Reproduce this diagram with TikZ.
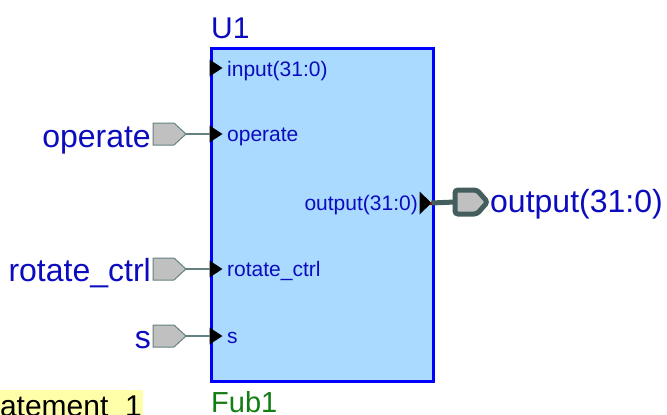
\documentclass[tikz,border=0pt]{standalone}
\usepackage{fontspec}
\setmainfont{Liberation Sans}
\usetikzlibrary{calc}
\definecolor{txtblue}{RGB}{12,12,190}
\definecolor{boxblue}{RGB}{0,0,255}
\definecolor{boxfill}{RGB}{170,218,255}
\definecolor{pingray}{RGB}{192,192,192}
\definecolor{pinedge}{RGB}{100,128,128}
\definecolor{outpin}{RGB}{68,94,94}
\definecolor{fubgreen}{RGB}{20,125,20}
\definecolor{notey}{RGB}{255,255,170}
\definecolor{dotred}{RGB}{150,0,0}
\begin{document}
\begin{tikzpicture}[x=1pt,y=-1pt,
  big/.style={font=\fontsize{32}{32}\selectfont, text=txtblue, inner sep=0pt},
  portlbl/.style={font=\fontsize{21}{21}\selectfont, text=txtblue, inner sep=0pt},
  porttri/.style={fill=black},
  wire/.style={draw=pinedge, line width=1.3pt},
  inpin/.style={fill=pingray, draw=pinedge, line width=1pt, line join=miter},
  outpinst/.style={fill=pingray, draw=outpin, line width=5pt, rounded corners=3pt}]
\useasboundingbox (0,0) rectangle (667,415);

% block
\node[draw=boxblue, fill=boxfill, line width=3pt, minimum width=222pt, minimum height=333pt,
      anchor=north west, inner sep=0pt] (U1) at (209.5,47) {};
\node[font=\fontsize{30}{30}\selectfont, text=txtblue, anchor=base west, inner sep=0pt] (U1lbl) at (211,38) {U1};
\node[font=\fontsize{29}{29}\selectfont, text=fubgreen, anchor=base west, inner sep=0pt, text depth=0pt] (Fub) at (211,412) {Fub1};

% port coordinates on the block edge
\coordinate (pIn)  at (209.5,68);
\coordinate (pOp)  at (209.5,134);
\coordinate (pRot) at (209.5,269);
\coordinate (pS)   at (209.5,336);
\coordinate (pOut) at (431.5,203);

% port triangles
\foreach \p in {pIn,pOp,pRot,pS}{
  \fill[porttri] ($(\p)+(0,-8.5)$) -- ($(\p)+(13,0)$) -- ($(\p)+(0,8.5)$) -- cycle;
}
\fill[porttri] ($(pOut)+(-12,-11.5)$) -- (pOut) -- ($(pOut)+(-12,11.5)$) -- cycle;
\fill[dotred] ($(pOut)+(-1.5,-1.5)$) rectangle ($(pOut)+(1.5,1.5)$);

% port labels
\node[portlbl, anchor=base west] (lIn)  at (227,76)  {input(31:0)};
\node[portlbl, anchor=base west] (lOp)  at (227,141) {operate};
\node[portlbl, anchor=base west] (lRot) at (227,276) {rotate\_ctrl};
\node[portlbl, anchor=base west] (lS)   at (227,343) {s};
\node[portlbl, anchor=base east] (lOut) at (418,210) {output(31:0)};

% input pins
\foreach \n/\y in {op/134,rot/269,s/336}{
  \coordinate (\n tip) at (186,\y);
  \draw[inpin] (153,\y-11) -- (174,\y-11) -- (\n tip) -- (174,\y+11) -- (153,\y+11) -- cycle;
}
\draw[wire] (optip) -- (pOp);
\draw[wire] (rottip) -- (pRot);
\draw[wire] (stip) -- (pS);

% input pin names
\node[big, anchor=base east] (nOp)  at (151,147) {operate};
\node[big, anchor=base east] (nRot) at (151,281) {rotate\_ctrl};
\node[big, anchor=base east] (nS)   at (151,348) {s};

% output pin
\coordinate (outbase) at (455,202);
\draw[outpin, line width=5pt] (pOut) -- (outbase);
\draw[outpinst] (455,190) -- (477,190) -- (487.5,202) -- (477,214) -- (455,214) -- cycle;
\node[big, anchor=base west] (nOut) at (490,212) {output(31:0)};

% statement note (cut off by the picture edge, as in the reference)
\node[fill=notey, text=black, font=\fontsize{30}{30}\selectfont, anchor=base east,
      inner xsep=1pt, inner ysep=5pt] (note) at (143,416) {Statement\_1};
\end{tikzpicture}
\end{document}
